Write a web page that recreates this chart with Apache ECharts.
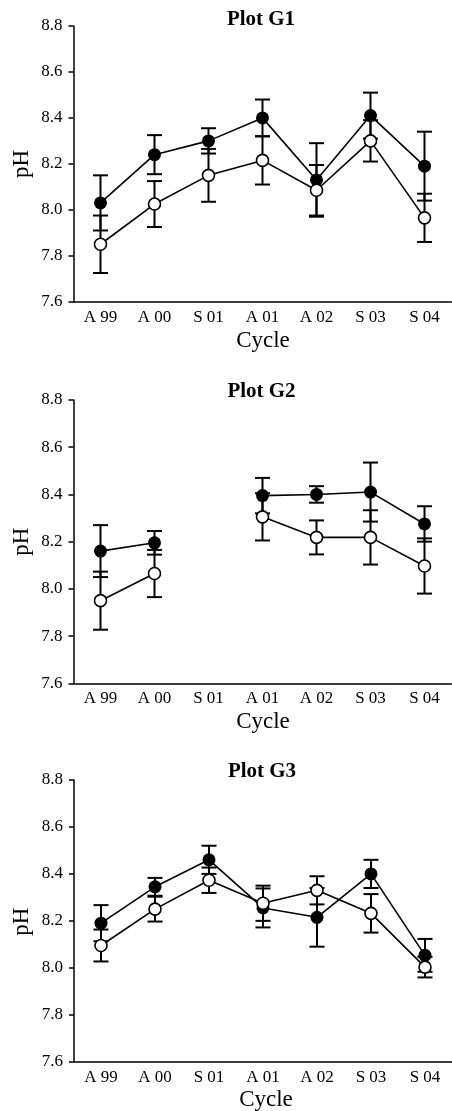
<!DOCTYPE html>
<html>
<head>
<meta charset="utf-8">
<script src="https://cdn.jsdelivr.net/npm/echarts@6/dist/echarts.min.js"></script>
<style>
html,body{margin:0;padding:0;background:#fff;}
#chart{width:452px;height:1111px;}
</style>
</head>
<body>
<div id="chart"></div>
<script>
var categories = ['A 99', 'A 00', 'S 01', 'A 01', 'A 02', 'S 03', 'S 04'];
var titles = ['Plot G1', 'Plot G2', 'Plot G3'];

var g1Filled    = [8.03, 8.24, 8.30, 8.40, 8.13, 8.41, 8.19];
var g1FilledErr = [0.12, 0.085, 0.055, 0.08, 0.16, 0.10, 0.15];
var g1Open      = [7.85, 8.025, 8.15, 8.215, 8.085, 8.30, 7.965];
var g1OpenErr   = [0.125, 0.10, 0.115, 0.105, 0.11, 0.09, 0.105];

var g2Filled    = [8.16, 8.195, null, 8.395, 8.40, 8.41, 8.275];
var g2FilledErr = [0.11, 0.05, null, 0.075, 0.035, 0.125, 0.075];
var g2Open      = [7.95, 8.065, null, 8.305, 8.218, 8.218, 8.097];
var g2OpenErr   = [0.123, 0.10, null, 0.10, 0.072, 0.115, 0.117];

var g3Filled    = [8.19, 8.345, 8.46, 8.255, 8.215, 8.40, 8.053];
var g3FilledErr = [0.077, 0.038, 0.06, 0.083, 0.125, 0.06, 0.07];
var g3Open      = [8.095, 8.25, 8.373, 8.275, 8.33, 8.232, 8.003];
var g3OpenErr   = [0.068, 0.053, 0.054, 0.075, 0.06, 0.082, 0.044];

var FONT = 'Liberation Serif, Times New Roman, serif';

var panels = [
  {filled: g1Filled, fErr: g1FilledErr, open: g1Open, oErr: g1OpenErr,
   grid: {left: 73.5, top: 26, width: 378, height: 275.7},
   title: [261, 20], cycle: [263, 340.5], ph: [22, 164]},
  {filled: g2Filled, fErr: g2FilledErr, open: g2Open, oErr: g2OpenErr,
   grid: {left: 73.5, top: 400, width: 378, height: 283.3},
   title: [261.5, 391.7], cycle: [263, 721.7], ph: [22, 541.7]},
  {filled: g3Filled, fErr: g3FilledErr, open: g3Open, oErr: g3OpenErr,
   grid: {left: 74, top: 780, width: 384.6, height: 281.7},
   title: [262, 771.7], cycle: [266, 1099.7], ph: [22, 921.7]}
];

function errData(vals, errs) {
  var out = [];
  for (var i = 0; i < vals.length; i++) {
    if (vals[i] == null) continue;
    out.push([i, vals[i] - errs[i], vals[i] + errs[i]]);
  }
  return out;
}
function lineData(vals) {
  return vals.map(function (v) { return v == null ? '-' : v; });
}
function errRender(params, api) {
  var x = api.value(0), lo = api.value(1), hi = api.value(2);
  var p1 = api.coord([x, hi]), p2 = api.coord([x, lo]);
  var hw = 7.5;
  var st = {stroke: '#000', lineWidth: 2, fill: null};
  return {type: 'group', children: [
    {type: 'line', shape: {x1: p1[0], y1: p1[1], x2: p2[0], y2: p2[1]}, style: st},
    {type: 'line', shape: {x1: p1[0] - hw, y1: p1[1], x2: p1[0] + hw, y2: p1[1]}, style: st},
    {type: 'line', shape: {x1: p2[0] - hw, y1: p2[1], x2: p2[0] + hw, y2: p2[1]}, style: st}
  ]};
}

var grids = [], xAxes = [], yAxes = [], series = [], graphics = [];
panels.forEach(function (p, k) {
  grids.push(p.grid);
  xAxes.push({
    type: 'category', gridIndex: k, data: categories, boundaryGap: true,
    axisLine: {lineStyle: {color: '#000', width: 1.5}},
    axisTick: {show: false},
    axisLabel: {interval: 0, color: '#000', fontFamily: FONT, fontSize: 17, margin: 7},
    splitLine: {show: false}
  });
  yAxes.push({
    type: 'value', gridIndex: k, min: 7.6, max: 8.8, interval: 0.2,
    axisLine: {show: true, lineStyle: {color: '#000', width: 1.5}},
    axisTick: {show: true, length: 5, lineStyle: {color: '#000', width: 1.5}},
    axisLabel: {color: '#000', fontFamily: FONT, fontSize: 17, margin: 11,
      formatter: function (v) { return v.toFixed(1); }},
    splitLine: {show: false}
  });
  series.push({
    type: 'custom', xAxisIndex: k, yAxisIndex: k, z: 2,
    renderItem: errRender, encode: {x: 0, y: [1, 2]},
    data: errData(p.filled, p.fErr), silent: true
  });
  series.push({
    type: 'custom', xAxisIndex: k, yAxisIndex: k, z: 2,
    renderItem: errRender, encode: {x: 0, y: [1, 2]},
    data: errData(p.open, p.oErr), silent: true
  });
  series.push({
    type: 'line', xAxisIndex: k, yAxisIndex: k, z: 3,
    data: lineData(p.filled), symbol: 'circle', symbolSize: 13,
    lineStyle: {color: '#000', width: 1.6},
    itemStyle: {color: '#000', borderColor: '#000', borderWidth: 0},
    silent: true
  });
  series.push({
    type: 'line', xAxisIndex: k, yAxisIndex: k, z: 3,
    data: lineData(p.open), symbol: 'circle', symbolSize: 12,
    lineStyle: {color: '#000', width: 1.6},
    itemStyle: {color: '#fff', borderColor: '#000', borderWidth: 1.6},
    silent: true
  });
  graphics.push({type: 'text', x: p.title[0], y: p.title[1],
    style: {text: titles[k], font: 'bold 21px ' + FONT, fill: '#000',
      textAlign: 'center', textVerticalAlign: 'middle'}});
  graphics.push({type: 'text', x: p.cycle[0], y: p.cycle[1],
    style: {text: 'Cycle', font: '23px ' + FONT, fill: '#000',
      textAlign: 'center', textVerticalAlign: 'middle'}});
  graphics.push({type: 'text', x: p.ph[0], y: p.ph[1], rotation: Math.PI / 2,
    style: {text: 'pH', font: '23px ' + FONT, fill: '#000',
      textAlign: 'center', textVerticalAlign: 'middle'}});
});

var chart = echarts.init(document.getElementById('chart'), null, {renderer: 'canvas'});
chart.setOption({
  animation: false,
  backgroundColor: '#fff',
  grid: grids,
  xAxis: xAxes,
  yAxis: yAxes,
  series: series,
  graphic: graphics
});
</script>
</body>
</html>
